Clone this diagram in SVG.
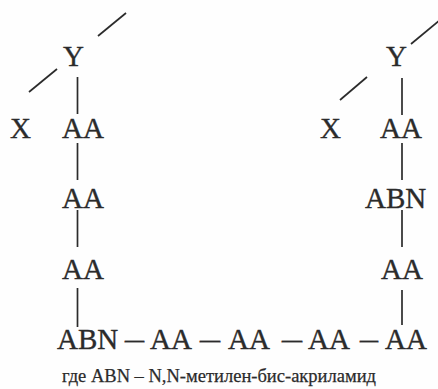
<svg xmlns="http://www.w3.org/2000/svg" width="438" height="389" viewBox="0 0 438 389">
<style>
.t{font-family:'Liberation Serif','Times New Roman',serif;font-size:29px;fill:#2b2b2b;stroke:#2b2b2b;stroke-width:0.35}
.c{font-family:'Liberation Serif','Times New Roman',serif;font-size:19.5px;fill:#2b2b2b;stroke:#2b2b2b;stroke-width:0.25}
.ln{stroke:#2b2b2b;stroke-width:1.7;fill:none}
</style>
<rect width="438" height="389" fill="#fefefe"/>
<g id="connectors" class="ln">
<line x1="98" y1="36" x2="126" y2="13"/>
<line x1="29" y1="92" x2="57" y2="69"/>
<line x1="77.5" y1="77" x2="77.5" y2="114"/>
<line x1="77.5" y1="143" x2="77.5" y2="180"/>
<line x1="77.5" y1="210" x2="77.5" y2="247"/>
<line x1="77.5" y1="288" x2="77.5" y2="327"/>
<line x1="411" y1="44" x2="440" y2="20"/>
<line x1="340" y1="100" x2="367" y2="77"/>
<line x1="402" y1="78" x2="402" y2="115"/>
<line x1="402" y1="143" x2="402" y2="180"/>
<line x1="402" y1="210" x2="402" y2="247"/>
<line x1="402" y1="290" x2="402" y2="325"/>
</g>
<g id="leftY"><text class="t" x="63" y="66">Y</text></g>
<g id="leftX"><text class="t" x="10" y="138">X</text></g>
<g id="leftAA1"><text class="t" x="62" y="138">AA</text></g>
<g id="leftAA2"><text class="t" x="62" y="208">AA</text></g>
<g id="leftAA3"><text class="t" x="62" y="279">AA</text></g>
<g id="rightY"><text class="t" x="386" y="66">Y</text></g>
<g id="rightX"><text class="t" x="320" y="138">X</text></g>
<g id="rightAA1"><text class="t" x="380" y="138">AA</text></g>
<g id="rightABN"><text class="t" x="365" y="208">ABN</text></g>
<g id="rightAA2"><text class="t" x="381" y="279">AA</text></g>
<g id="bottomABN"><text class="t" x="57" y="349">ABN</text></g>
<g id="bottomAA1"><text class="t" x="150" y="349">AA</text></g>
<g id="bottomAA2"><text class="t" x="228" y="349">AA</text></g>
<g id="bottomAA3"><text class="t" x="308" y="349">AA</text></g>
<g id="bottomAA4"><text class="t" x="385" y="349">AA</text></g>
<g id="dashes">
<text class="t" x="125" y="349" textLength="19" lengthAdjust="spacingAndGlyphs">–</text>
<text class="t" x="200" y="349" textLength="20" lengthAdjust="spacingAndGlyphs">–</text>
<text class="t" x="282" y="349" textLength="20" lengthAdjust="spacingAndGlyphs">–</text>
<text class="t" x="360" y="349" textLength="18" lengthAdjust="spacingAndGlyphs">–</text>
</g>
<g id="caption"><text class="c" x="62" y="382" textLength="314" lengthAdjust="spacingAndGlyphs">где ABN – N,N-метилен-бис-акриламид</text></g>
</svg>
